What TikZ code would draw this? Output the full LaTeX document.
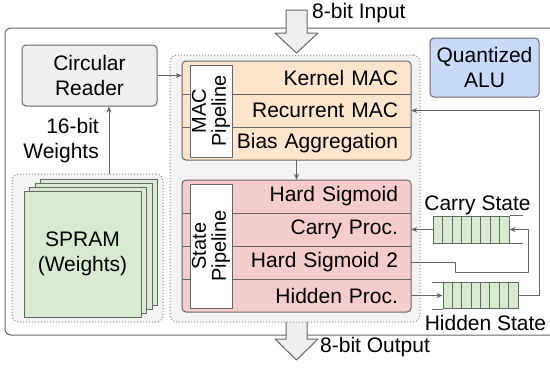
\documentclass[tikz,border=0pt]{standalone}
\usepackage{fontspec}
\setmainfont{Liberation Sans}
\usetikzlibrary{arrows.meta}
\definecolor{edgegray}{HTML}{666666}
\definecolor{dotgray}{HTML}{8A8A8A}
\definecolor{groupfill}{HTML}{F3F3F3}
\definecolor{readerfill}{HTML}{EFEFEF}
\definecolor{macfill}{HTML}{FCE5CD}
\definecolor{statefill}{HTML}{F4CCCC}
\definecolor{alufill}{HTML}{C9DAF8}
\definecolor{ramfill}{HTML}{D9EAD3}
\tikzset{t/.style={font=\fontsize{21}{25}\selectfont}}
\tikzset{tx/.style={t,inner sep=0pt}}
\tikzset{blk/.style={t,draw=edgegray,line width=1pt,rounded corners=4pt,inner sep=0pt,align=center}}
\tikzset{grp/.style={draw=dotgray,fill=groupfill,dotted,line width=1pt,rounded corners=7pt,inner sep=0pt}}
\tikzset{rw/.style={t,inner sep=0pt,inner xsep=13pt,text width=203pt,minimum height=33pt,align=right}}
\tikzset{lbl/.style={font=\fontsize{20}{20}\selectfont,draw=edgegray,fill=white,line width=1pt,inner sep=0pt,minimum height=42pt,rotate=90,align=center}}
\tikzset{fifo/.style={draw=edgegray,fill=ramfill,line width=1pt,inner sep=0pt}}
\tikzset{cn/.style={draw=edgegray,line width=1pt,-{Stealth[length=6pt,width=5pt]}}}

\begin{document}
\begin{tikzpicture}[x=1pt,y=-1pt,line join=round]
  \useasboundingbox (0,0) rectangle (550,370);
  % outer frame, open beyond the right edge
  \draw[edgegray,line width=1pt,rounded corners=6pt] (553,28) -| (5,335) -- (553,335);

  % block arrows in and out
  \filldraw[fill=readerfill,draw=edgegray,line width=1pt](286,10)--(307,10)--(307,33)--(318,33)--(296.5,53)--(275,33)--(286,33)--cycle;
  \filldraw[fill=readerfill,draw=edgegray,line width=1pt](286,317)--(307,317)--(307,339)--(318,339)--(296.5,360)--(275,339)--(286,339)--cycle;
  \node[tx,anchor=base west] (inlbl) at (312,18.5) {8-bit Input};
  \node[tx,anchor=base west] (outlbl) at (320,352) {8-bit Output};

  % weights memory
  \node[grp,minimum width=151pt,minimum height=148pt] (ramgrp) at (87.5,248) {};
  \foreach \k in {3,2,1}
    \filldraw[fill=ramfill,draw=edgegray,line width=1pt] ({24+5.5*\k},{191-3.8*\k}) rectangle ++(117,126);
  \node[blk,rounded corners=0pt,fill=ramfill,minimum width=117pt,minimum height=126pt] (spram) at (82.5,254) {SPRAM\\(Weights)};

  \node[blk,fill=readerfill,minimum width=135pt,minimum height=61pt] (reader) at (89.5,75.5) {Circular\\Reader};
  \node[tx,anchor=east,align=right] (wlbl) at (99,141) {16-bit\\Weights};
  \draw[cn] (ramgrp.north) ++(21.5,0) coordinate (wtop) -- (wtop |- reader.south);

  \node[blk,fill=alufill,minimum width=109pt,minimum height=59pt] (alu) at (484.5,67.5) {Quantized\\ALU};

  % pipelines
  \node[grp,minimum width=250pt,minimum height=267pt] (pipe) at (295,188.5) {};

  \filldraw[fill=macfill,draw=edgegray,line width=1pt,rounded corners=4pt] (182,61) rectangle (411,160);
  \node[rw] (kmac) at (296.5,77.5) {Kernel MAC};
  \node[rw] (rmac) at (296.5,110.5) {Recurrent MAC};
  \node[rw] (bagg) at (296.5,143.5) {Bias Aggregation};
  \draw[edgegray,line width=1pt] (kmac.south west) -- (kmac.south east);
  \draw[edgegray,line width=1pt] (rmac.south west) -- (rmac.south east);
  \node[lbl,minimum width=92pt] (maclbl) at (211,111) {MAC\\Pipeline};

  \filldraw[fill=statefill,draw=edgegray,line width=1pt,rounded corners=4pt] (182,180) rectangle (411,312);
  \node[rw] (hsig) at (296.5,196.5) {Hard Sigmoid};
  \node[rw] (cproc) at (296.5,229.5) {Carry Proc.};
  \node[rw] (hsig2) at (296.5,262.5) {Hard Sigmoid 2};
  \node[rw] (hproc) at (296.5,295.5) {Hidden Proc.};
  \draw[edgegray,line width=1pt] (hsig.south west) -- (hsig.south east);
  \draw[edgegray,line width=1pt] (cproc.south west) -- (cproc.south east);
  \draw[edgegray,line width=1pt] (hsig2.south west) -- (hsig2.south east);
  \node[lbl,minimum width=124pt] (statelbl) at (211,246) {State\\Pipeline};

  % state buffers
  \node[fifo,minimum width=76pt,minimum height=27pt] (cfifo) at (471,229.5) {};
  \foreach \i in {1,...,7}
    \draw[edgegray,line width=1pt] ({433+9.5*\i},216) -- ++(0,27);
  \draw[edgegray,line width=1pt] (cfifo.north east) -- ++(13,0);
  \draw[edgegray,line width=1pt] (cfifo.south east) -- ++(13,0);
  \node[tx,anchor=base] (clbl) at (477.5,210) {Carry State};

  \node[fifo,minimum width=75pt,minimum height=26pt] (hfifo) at (480.5,295.5) {};
  \foreach \i in {1,...,7}
    \draw[edgegray,line width=1pt] ({443+9.375*\i},282.5) -- ++(0,26);
  \draw[edgegray,line width=1pt] (hfifo.north west) -- ++(-11,0);
  \draw[edgegray,line width=1pt] (hfifo.south west) -- ++(-11,0);
  \node[tx,anchor=base] (hlbl) at (485.5,330) {Hidden State};

  % connectors
  \draw[cn] (reader.east) -- (reader.east -| kmac.west);
  \draw[cn] (bagg.south) -- (hsig.north);
  \draw[cn] (cfifo.west) -- (cproc.east);
  \draw[cn] (hproc.east) -- (hfifo.west);
  \draw[cn] (hsig2.east) -| ++(44,9.5) -| ++(73,-42.5) -- (cfifo.east);
  \draw[cn] (hfifo.east) -- ++(21,0) |- (rmac.east);
\end{tikzpicture}
\end{document}
